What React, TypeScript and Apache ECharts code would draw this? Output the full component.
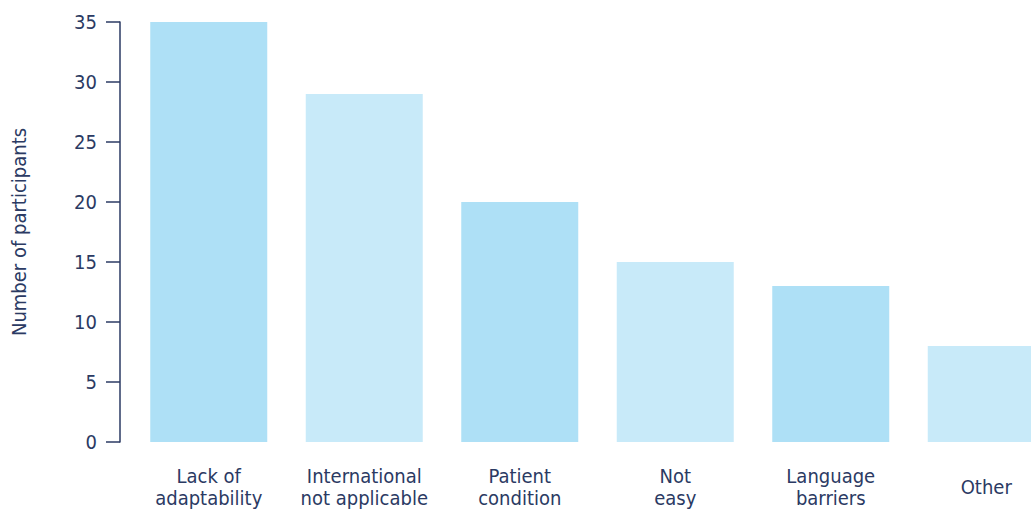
import React, { useEffect, useRef } from "react";
import * as echarts from "echarts";

const categories = [
  "Lack of\nadaptability",
  "International\nnot applicable",
  "Patient\ncondition",
  "Not\neasy",
  "Language\nbarriers",
  "Other",
];
const values = [35, 29, 20, 15, 13, 8];
const barColors = ["#aee0f6", "#c8eaf9"];
const yTicks = { min: 0, max: 35, interval: 5 };
const yName = "Number of participants";

const FONT = "'Liberation Sans Narrow', 'DejaVu Sans Condensed', Roboto, sans-serif";
const NAVY = "#2b3a63";

if (typeof document !== "undefined") {
  document.body.style.margin = "0";
}

export default function App() {
  const ref = useRef<HTMLDivElement>(null);
  useEffect(() => {
    document.body.style.margin = "0";
    if (!ref.current) return;
    const chart = echarts.init(ref.current, undefined, { renderer: "svg" });
    chart.setOption({
      animation: false,
      grid: {
        left: 131,
        right: 24,
        top: 22,
        bottom: 68,
        containLabel: false,
        outerBoundsMode: "none",
      },
      xAxis: {
        type: "category",
        data: categories,
        axisLine: { show: false },
        axisTick: { show: false },
        axisLabel: {
          color: NAVY,
          fontFamily: FONT,
          fontSize: 20,
          lineHeight: 22,
          margin: 45,
          verticalAlign: "middle",
          interval: 0,
        },
      },
      yAxis: {
        type: "value",
        min: yTicks.min,
        max: yTicks.max,
        interval: yTicks.interval,
        offset: 11,
        name: yName,
        nameLocation: "middle",
        nameGap: 91,
        nameTextStyle: { color: NAVY, fontFamily: FONT, fontSize: 20 },
        splitLine: { show: false },
        axisLine: { show: true, lineStyle: { color: NAVY, width: 1.5 } },
        axisTick: { show: true, length: 14, lineStyle: { color: NAVY, width: 1.5 } },
        axisLabel: { color: NAVY, fontFamily: FONT, fontSize: 20, margin: 23 },
      },
      series: [
        {
          type: "bar",
          barWidth: 117,
          data: values.map((v, i) => ({
            value: v,
            itemStyle: { color: barColors[i % 2] },
          })),
        },
      ],
    });
    return () => chart.dispose();
  }, []);
  return (
    <div style={{ width: 1031, height: 510, overflow: "hidden" }}>
      <div ref={ref} style={{ width: 1088, height: 510 }} />
    </div>
  );
}
